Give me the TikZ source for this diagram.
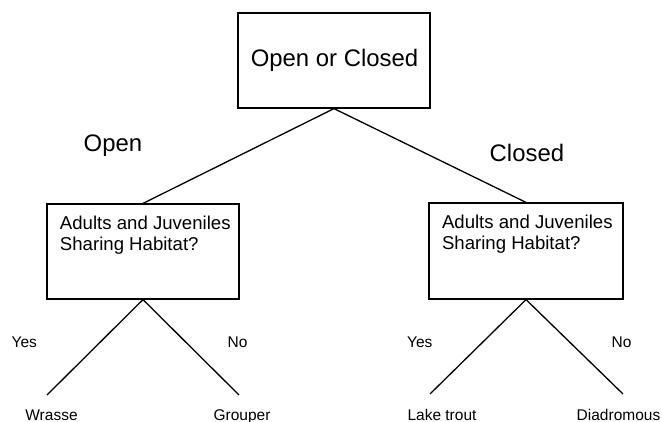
\documentclass[tikz,border=0pt]{standalone}
\usepackage{fontspec}
\setmainfont{Liberation Sans}
\newcommand{\qboxtext}[3]{\parbox[c][#2pt][t]{#1pt}{\leftskip=13pt\fontsize{18.6}{20.8}\selectfont\rule{0pt}{26pt}#3\par}}
\tikzset{
  qbox/.style={draw, line width=1.2pt, inner sep=0pt, rectangle},
  topbox/.style={draw, line width=1.2pt, inner sep=0pt, rectangle, minimum width=192pt, minimum height=95pt},
  bigtext/.style={font=\fontsize{23.9}{28}\selectfont},
  branchlbl/.style={inner sep=0pt, anchor=base west, bigtext},
  smalllbl/.style={inner sep=0pt, anchor=base west, font=\fontsize{15.5}{18}\selectfont},
  leaflbl/.style={inner sep=0pt, anchor=base, font=\fontsize{15.5}{18}\selectfont},
  conn/.style={line width=1.3pt}
}
\begin{document}
\begin{tikzpicture}[x=1pt,y=-1pt]
\useasboundingbox (0,0) rectangle (662,422);
% top decision
\node[topbox] (top) at (334,60.5) {};
\node[inner sep=0pt, anchor=base, bigtext] (toptext) at (334.5,67) {Open or Closed};
% second-level boxes
\node[qbox] (L) at (143,251.5) {\qboxtext{192}{95}{Adults and Juveniles\\Sharing Habitat?}};
\node[qbox] (R) at (526,251) {\qboxtext{194}{96}{Adults and Juveniles\\Sharing Habitat?}};
% branch labels
\node[branchlbl] (open) at (83.5,152) {Open};
\node[branchlbl] (closed) at (489.5,162) {Closed};
% connectors from top
\draw[conn] (top.south) -- (L.north);
\draw[conn] (top.south) -- (R.north);
% leaf end points
\coordinate (lw) at (47,395);
\coordinate (lg) at (239,395);
\coordinate (rl) at (430,394);
\coordinate (rd) at (623,394);
\draw[conn] (L.south) -- (lw);
\draw[conn] (L.south) -- (lg);
\draw[conn] (R.south) -- (rl);
\draw[conn] (R.south) -- (rd);
% yes / no
\node[smalllbl] (ly) at (11.5,348) {Yes};
\node[smalllbl] (ln) at (227.5,348) {No};
\node[smalllbl] (ry) at (407,348) {Yes};
\node[smalllbl] (rn) at (611.5,348) {No};
% leaves
\node[leaflbl] (wrasse) at (51.5,420) {Wrasse};
\node[leaflbl] (grouper) at (242,420) {Grouper};
\node[leaflbl] (laketrout) at (442,420) {Lake trout};
\node[leaflbl] (diadromous) at (618.5,420) {Diadromous};
\end{tikzpicture}
\end{document}
